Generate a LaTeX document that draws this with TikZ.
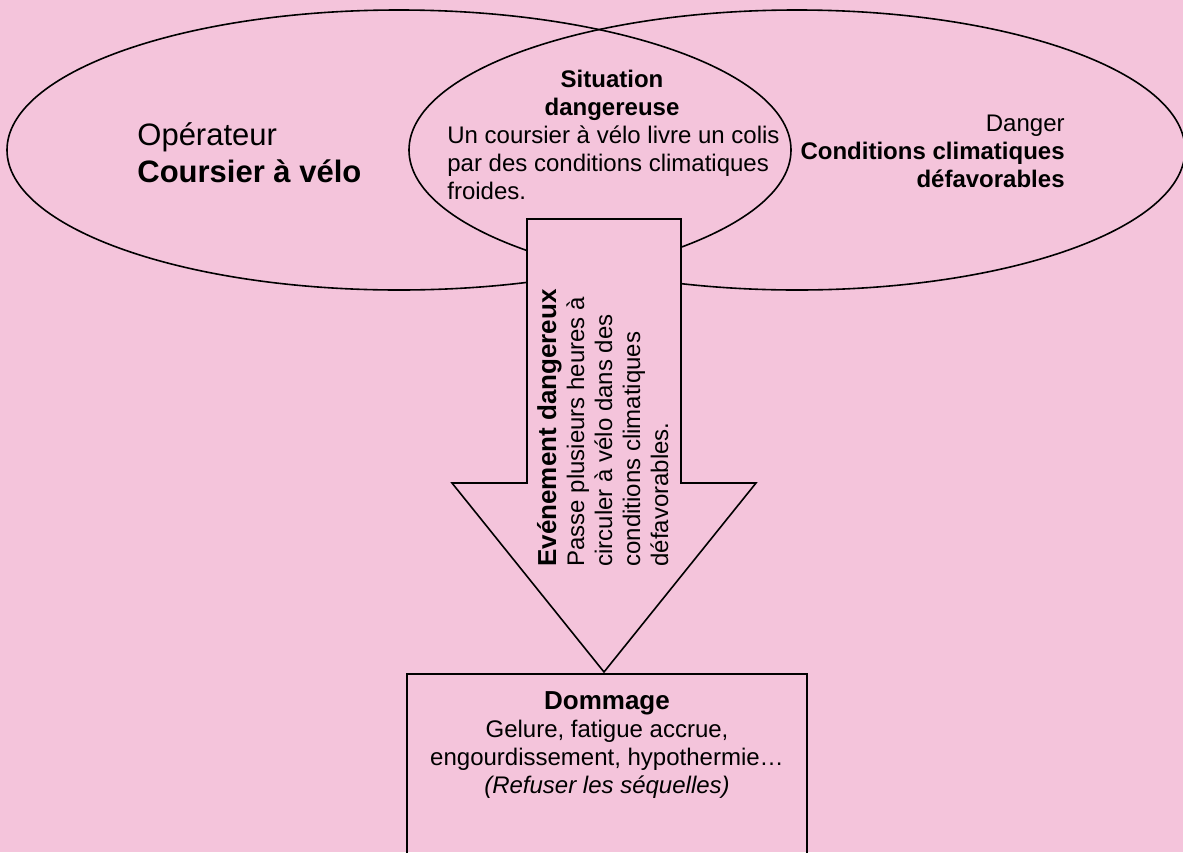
\documentclass[tikz,border=0pt]{standalone}
\usepackage{fontspec}
\setmainfont{Liberation Sans}
\usepackage{xcolor}
\usepackage{tikz}

\definecolor{paper}{RGB}{244,196,219}
\newcommand{\headtxt}[1]{{\fontsize{13}{14}\selectfont\bfseries #1}}

\begin{document}
\begin{tikzpicture}[x=0.5pt,y=-0.5pt,
  txt/.style={font=\fontsize{12}{14}\selectfont,inner sep=0pt},
  big/.style={font=\fontsize{15.5}{18.5}\selectfont,inner sep=0pt},
  outline/.style={line width=0.8pt}]
% Page
\useasboundingbox (0,0) rectangle (1183,852);
\fill[paper] (0,0) rectangle (1183,852);
\clip (0,0) rectangle (1183,852);

% Operator and hazard ellipses
\draw[outline] (399,150) ellipse [x radius=392, y radius=140];
\draw[outline] (797,150) ellipse [x radius=388, y radius=140];

% Big arrow
\filldraw[outline,fill=paper] (527,219) -- (681,219) -- (681,483) -- (756,483)
  -- (604,672) -- (452,483) -- (527,483) -- cycle;

% Damage box
\draw[outline] (407,674) rectangle (807,900);

% Labels (anchored on the last baseline)
\node[big,anchor=base west,align=left] (operateur) at (137,182)
  {Opérateur\\\textbf{Coursier à vélo}};
\node[txt,anchor=base,align=center] (situation) at (612,115)
  {\textbf{Situation}\\\textbf{dangereuse}};
\node[txt,anchor=base west,align=left] (situationtxt) at (447,199)
  {Un coursier à vélo livre un colis\\par des conditions climatiques\\froides.};
\node[txt,anchor=base east,align=right] (danger) at (1065,187)
  {Danger\\\textbf{Conditions climatiques}\\\textbf{défavorables}};
\node[txt,rotate=90,anchor=base west,align=left] (evenement) at (668,567)
  {\headtxt{Evénement dangereux}\\Passe plusieurs heures à\\circuler à vélo dans des\\conditions climatiques\\défavorables.};
\node[txt,anchor=base,align=center] (dommage) at (607,793)
  {\headtxt{Dommage}\\Gelure, fatigue accrue,\\engourdissement, hypothermie…\\\textit{(Refuser les séquelles)}};
\end{tikzpicture}
\end{document}
